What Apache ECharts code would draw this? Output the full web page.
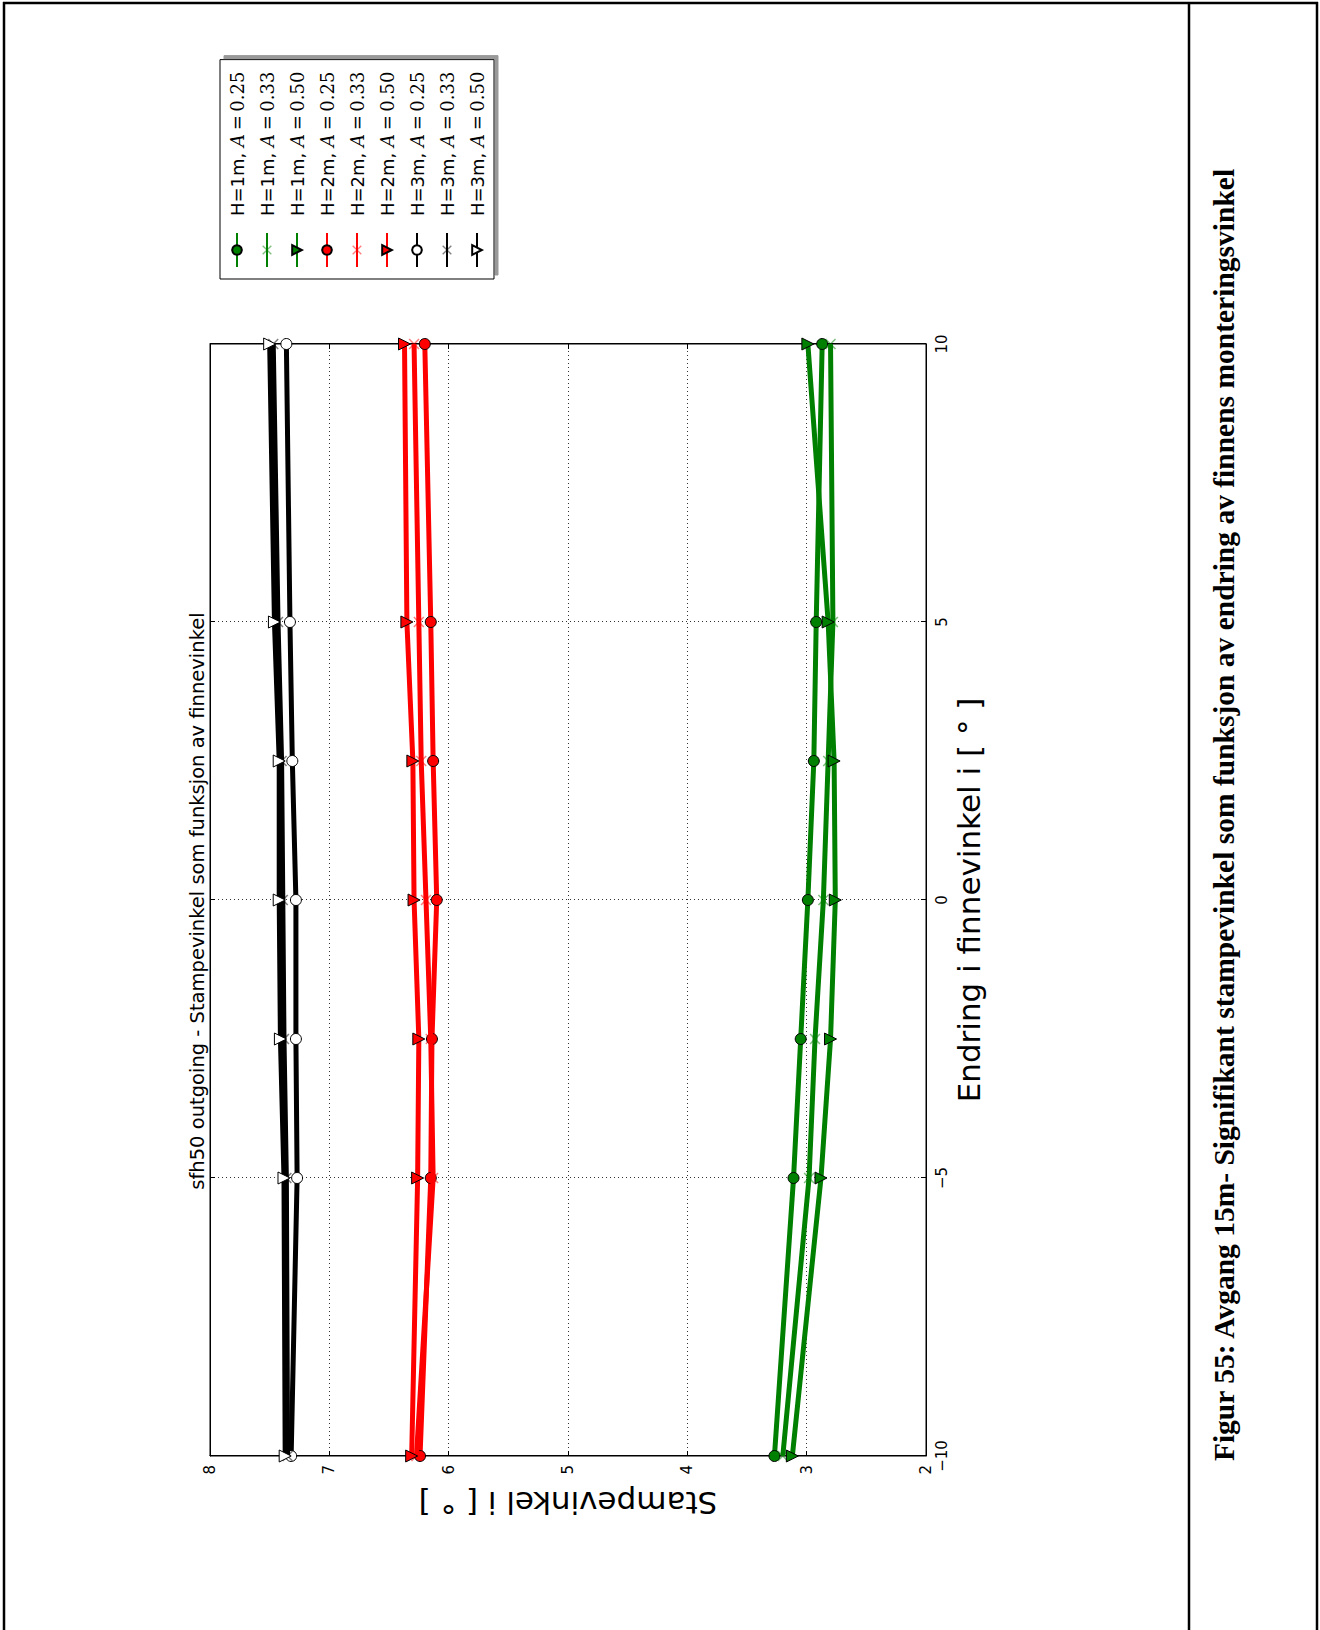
<!DOCTYPE html>
<html>
<head>
<meta charset="utf-8">
<script src="https://cdn.jsdelivr.net/npm/echarts@6/dist/echarts.min.js"></script>
<style>
html,body{margin:0;padding:0;background:#fff;overflow:hidden;width:1320px;height:1630px;}
#wrap{position:absolute;left:0;top:0;width:1630px;height:1320px;transform-origin:0 0;transform:translate(0,1630px) rotate(-90deg);}
#chart{width:1630px;height:1320px;}
</style>
</head>
<body>
<div id="wrap"><div id="chart"></div></div>
<script>
// ---- data ----
const finnevinkel = [-10, -5, -2.5, 0, 2.5, 5, 10];
const seriesNames = [
  'H=1m, A=0.25', 'H=1m, A=0.33', 'H=1m, A=0.50',
  'H=2m, A=0.25', 'H=2m, A=0.33', 'H=2m, A=0.50',
  'H=3m, A=0.25', 'H=3m, A=0.33', 'H=3m, A=0.50'
];
const h1a025 = [3.27, 3.11, 3.05, 2.99, 2.94, 2.92, 2.87];
const h1a033 = [3.20, 2.98, 2.93, 2.86, 2.82, 2.78, 2.80];
const h1a050 = [3.12, 2.88, 2.80, 2.76, 2.77, 2.82, 2.99];
const h2a025 = [6.24, 6.15, 6.14, 6.10, 6.13, 6.15, 6.20];
const h2a033 = [6.27, 6.13, 6.15, 6.19, 6.23, 6.25, 6.29];
const h2a050 = [6.31, 6.26, 6.25, 6.29, 6.30, 6.35, 6.37];
const h3a025 = [7.32, 7.27, 7.28, 7.28, 7.31, 7.33, 7.36];
const h3a033 = [7.35, 7.36, 7.38, 7.39, 7.40, 7.43, 7.47];
const h3a050 = [7.37, 7.38, 7.41, 7.42, 7.42, 7.46, 7.50];
const xTicks = [-10, -5, 0, 5, 10];
const yTicks = [2, 3, 4, 5, 6, 7, 8];
const titleText = 'sfh50 outgoing - Stampevinkel som funksjon av finnevinkel';
const xName = 'Endring i finnevinkel i [ \u00b0 ]';
const yName = 'Stampevinkel i [ \u00b0 ]';
const captionText = 'Figur 55: Avgang 15m- Signifikant stampevinkel som funksjon av endring av finnens monteringsvinkel';

// ---- styles ----
const GREEN = '#008000', RED = '#ff0000', BLACK = '#000000';
const X_PATH = 'path://M0,1 L1,0 L5,4 L9,0 L10,1 L6,5 L10,9 L9,10 L5,6 L1,10 L0,9 L4,5 Z';
const values = [h1a025, h1a033, h1a050, h2a025, h2a033, h2a050, h3a025, h3a033, h3a050];
const lineColors = [GREEN, GREEN, GREEN, RED, RED, RED, BLACK, BLACK, BLACK];
const markerKinds = ['circle', 'x', 'tri', 'circle', 'x', 'tri', 'circle', 'x', 'tri'];

function makeSeries(i) {
  const color = lineColors[i];
  const kind = markerKinds[i];
  const isH3 = i >= 6;
  const s = {
    name: seriesNames[i],
    type: 'line',
    data: finnevinkel.map((x, k) => [x, values[i][k]]),
    showSymbol: true,
    clip: true,
    lineStyle: { color: color, width: 5 },
    emphasis: { disabled: true },
    animation: false,
    z: 2 + i
  };
  if (kind === 'circle') {
    s.symbol = 'circle';
    s.symbolSize = 11;
    s.itemStyle = { color: isH3 ? '#ffffff' : color, borderColor: '#000', borderWidth: 1 };
  } else if (kind === 'tri') {
    s.symbol = 'triangle';
    s.symbolRotate = 180;
    s.symbolSize = 12;
    s.itemStyle = { color: isH3 ? '#ffffff' : color, borderColor: '#000', borderWidth: 1 };
  } else {
    s.symbol = X_PATH;
    s.symbolSize = 11;
    s.itemStyle = { color: color, opacity: 0.5, borderWidth: 0 };
  }
  return s;
}

const minus = v => (v < 0 ? '\u2212' + Math.abs(v) : String(v));

const chart = echarts.init(document.getElementById('chart'), null, { renderer: 'svg', width: 1630, height: 1320 });
const axisCommon = {
  axisLine: { show: true, onZero: false, lineStyle: { color: '#000', width: 1 } },
  axisTick: { show: true, inside: true, length: 5, lineStyle: { color: '#000', width: 1 } }
};
chart.setOption({
  animation: false,
  backgroundColor: '#ffffff',
  grid: { left: 174, right: 344, top: 210, bottom: 394, show: true, borderColor: '#000', borderWidth: 1, backgroundColor: 'transparent' },
  xAxis: [
    Object.assign({
      type: 'value', min: xTicks[0], max: xTicks[xTicks.length - 1], interval: 5, position: 'bottom',
      axisLabel: { fontSize: 15, color: '#000', fontFamily: 'DejaVu Sans', margin: 8, formatter: minus },
      splitLine: { show: true, lineStyle: { color: '#000', width: 0.8, type: [1, 3] } },
      name: xName, nameLocation: 'middle', nameGap: 25,
      nameTextStyle: { fontSize: 31, color: '#000', fontFamily: 'DejaVu Sans' }
    }, axisCommon),
    Object.assign({
      type: 'value', min: xTicks[0], max: xTicks[xTicks.length - 1], interval: 5, position: 'top',
      axisLabel: { show: false }, splitLine: { show: false }
    }, axisCommon)
  ],
  yAxis: [
    Object.assign({
      type: 'value', min: yTicks[0], max: yTicks[yTicks.length - 1], interval: 1, position: 'left',
      axisLabel: { fontSize: 15, color: '#000', fontFamily: 'DejaVu Sans', margin: 9 },
      splitLine: { show: true, lineStyle: { color: '#000', width: 0.8, type: [1, 3] } },
      name: yName, nameLocation: 'middle', nameGap: 31, nameRotate: 90,
      nameTextStyle: { fontSize: 31, color: '#000', fontFamily: 'DejaVu Sans' }
    }, axisCommon),
    Object.assign({
      type: 'value', min: yTicks[0], max: yTicks[yTicks.length - 1], interval: 1, position: 'right',
      axisLabel: { show: false }, splitLine: { show: false }
    }, axisCommon)
  ],
  legend: {
    orient: 'vertical',
    left: 1351, top: 220,
    padding: [8, 12, 8, 11],
    itemWidth: 34, itemHeight: 12, itemGap: 12,
    backgroundColor: '#ffffff',
    borderColor: '#000', borderWidth: 1, borderRadius: 0,
    shadowColor: '#999999', shadowOffsetX: 4, shadowOffsetY: 4, shadowBlur: 0,
    selectedMode: false,
    data: seriesNames,
    formatter: function (name) {
      const m = name.match(/^(H=\dm, )A=(.*)$/);
      return m[1] + '{i|A}{s|\u2009=\u20090' + m[2].slice(1) + '}';
    },
    textStyle: {
      fontSize: 18, color: '#000', fontFamily: 'DejaVu Sans', lineHeight: 18, padding: [0, 0, 0, 12],
      rich: {
        i: { fontSize: 18, fontFamily: 'DejaVu Serif', fontStyle: 'italic', color: '#000' },
        s: { fontSize: 18, fontFamily: 'DejaVu Serif', color: '#000' }
      }
    }
  },
  graphic: [
    { type: 'text', x: 729, y: 197, style: { text: titleText, fontSize: 19.5, fontFamily: 'DejaVu Sans', fill: '#000', textAlign: 'center', textVerticalAlign: 'middle' } },
    { type: 'text', x: 815, y: 1224, style: { text: captionText, fontSize: 29.5, fontWeight: 'bold', fontFamily: 'Liberation Serif', fill: '#000', textAlign: 'center', textVerticalAlign: 'middle' } },
    { type: 'line', shape: { x1: 1627, y1: 3, x2: 1627, y2: 1318 }, style: { stroke: '#000', lineWidth: 2.5 } },
    { type: 'line', shape: { x1: 0, y1: 4, x2: 1628, y2: 4 }, style: { stroke: '#000', lineWidth: 2.5 } },
    { type: 'line', shape: { x1: 0, y1: 1189, x2: 1628, y2: 1189 }, style: { stroke: '#000', lineWidth: 2.5 } },
    { type: 'line', shape: { x1: 0, y1: 1317, x2: 1628, y2: 1317 }, style: { stroke: '#000', lineWidth: 2.5 } }
  ],
  series: seriesNames.map((n, i) => makeSeries(i))
});
</script>
</body>
</html>
